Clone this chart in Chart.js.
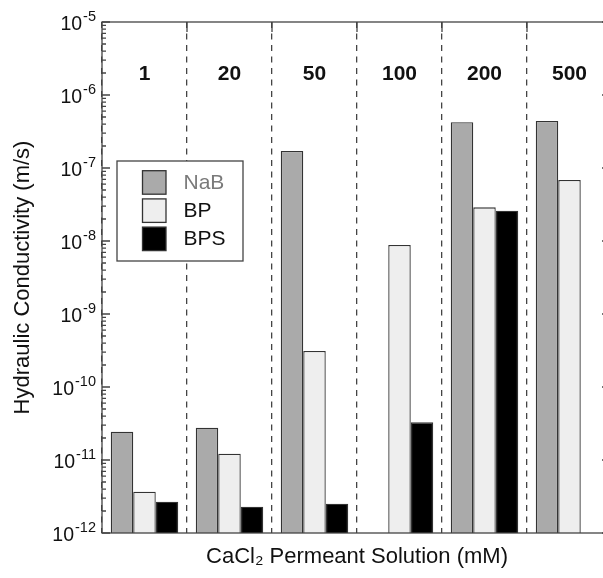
<!DOCTYPE html>
<html><head><meta charset="utf-8">
<script src="https://cdn.jsdelivr.net/npm/chart.js@4.4.1/dist/chart.umd.min.js"></script>
<style>
html,body{margin:0;padding:0;background:#fff;overflow:hidden;width:603px;height:578px}
#wrap{position:relative;width:620px;height:578px}
canvas{display:block}
</style></head><body>
<div id="wrap"><canvas id="c" width="620" height="578"></canvas></div>
<script>
const categories = ['1', '20', '50', '100', '200', '500'];
const seriesNames = ['NaB', 'BP', 'BPS'];
const nabValues = [2.44e-11, 2.77e-11, 1.71e-7, null, 4.23e-7, 4.4e-7];
const bpValues  = [3.68e-12, 1.22e-11, 3.11e-10, 8.8e-9, 2.89e-8, 6.86e-8];
const bpsValues = [2.69e-12, 2.29e-12, 2.52e-12, 3.28e-11, 2.6e-8, null];
const yTickExponents = [-5, -6, -7, -8, -9, -10, -11, -12];
const seriesColors = ['#aaaaaa', '#eeeeee', '#000000'];
const legendTextColors = ['#7a7a7a', '#111111', '#111111'];

const FONT = 'Liberation Sans, Arial, Helvetica, sans-serif';

const framePlugin = {
  id: 'frame',
  afterDraw(chart) {
    const {ctx, chartArea: {left, right, top, bottom}, scales: {x, y}} = chart;
    ctx.save();
    ctx.strokeStyle = '#444';
    ctx.lineWidth = 1.3;
    ctx.setLineDash([]);
    ctx.strokeRect(left, top, right - left, bottom - top);
    ctx.beginPath();
    const exps = yTickExponents.slice().sort((a, b) => a - b);
    for (const e of exps) {
      const py = y.getPixelForValue(Math.pow(10, e));
      ctx.moveTo(left, py); ctx.lineTo(left + 8, py);
      ctx.moveTo(right, py); ctx.lineTo(right - 10, py);
      if (e < exps[exps.length - 1]) {
        for (let k = 2; k <= 9; k++) {
          const pm = y.getPixelForValue(k * Math.pow(10, e));
          ctx.moveTo(left, pm); ctx.lineTo(left + 4, pm);
          ctx.moveTo(right, pm); ctx.lineTo(right - 4, pm);
        }
      }
    }
    for (let i = 1; i < categories.length; i++) {
      const px = (x.getPixelForValue(i - 1) + x.getPixelForValue(i)) / 2;
      ctx.moveTo(px, top); ctx.lineTo(px, top + 10);
    }
    ctx.stroke();

    // y tick labels (10 with superscript exponent)
    ctx.fillStyle = '#111';
    for (const e of yTickExponents) {
      const py = y.getPixelForValue(Math.pow(10, e));
      const expStr = String(e);
      ctx.font = '14.5px ' + FONT;
      const ew = ctx.measureText(expStr).width;
      const xr = 96 - ew;
      ctx.textBaseline = 'middle';
      ctx.textAlign = 'left';
      ctx.fillText(expStr, xr, py - 5);
      ctx.font = '19.5px ' + FONT;
      ctx.textAlign = 'right';
      ctx.fillText('10', xr - 1, py + 3);
    }

    // category labels at the top
    ctx.font = 'bold 21px ' + FONT;
    ctx.textAlign = 'center';
    ctx.textBaseline = 'middle';
    categories.forEach((c, i) => {
      ctx.fillText(c, x.getPixelForValue(i), 74);
    });

    // legend
    const lx = 117, ly = 161, lw = 126, lh = 100;
    ctx.fillStyle = '#fff';
    ctx.fillRect(lx, ly, lw, lh);
    ctx.strokeStyle = '#444';
    ctx.lineWidth = 1.3;
    ctx.strokeRect(lx, ly, lw, lh);
    chart.data.datasets.forEach((ds, i) => {
      const sy = 170.7 + i * 28.2;
      ctx.fillStyle = ds.backgroundColor;
      ctx.fillRect(142.5, sy, 23.5, 23.5);
      ctx.strokeStyle = '#333';
      ctx.strokeRect(142.5, sy, 23.5, 23.5);
      ctx.fillStyle = legendTextColors[i];
      ctx.font = '21px ' + FONT;
      ctx.textAlign = 'left';
      ctx.textBaseline = 'middle';
      ctx.fillText(ds.label, 183.5, sy + 12.5);
    });
    ctx.restore();
  }
};

new Chart(document.getElementById('c'), {
  type: 'bar',
  data: {
    labels: categories,
    datasets: [
      {label: seriesNames[0], data: nabValues, backgroundColor: seriesColors[0], borderColor: '#333', borderWidth: 1.3},
      {label: seriesNames[1], data: bpValues, backgroundColor: seriesColors[1], borderColor: '#333', borderWidth: 1.3},
      {label: seriesNames[2], data: bpsValues, backgroundColor: seriesColors[2], borderColor: '#333', borderWidth: 1.3}
    ]
  },
  options: {
    responsive: false,
    animation: false,
    devicePixelRatio: 1,
    layout: {padding: {left: 0, right: 8, top: 22, bottom: 0}},
    datasets: {bar: {categoryPercentage: 0.794, barPercentage: 1.0, borderSkipped: 'start'}},
    plugins: {legend: {display: false}, tooltip: {enabled: false}},
    scales: {
      x: {
        type: 'category',
        offset: true,
        ticks: {display: false},
        grid: {display: true, offset: true, color: '#444', lineWidth: 1.3, drawTicks: false},
        border: {display: false, dash: [6, 5.5]},
        title: {display: true, text: 'CaCl₂ Permeant Solution (mM)', color: '#111', font: {family: FONT, size: 22}, padding: {top: 0, bottom: 8}},
        afterFit: s => { s.height = 45; }
      },
      y: {
        type: 'logarithmic',
        min: 1e-12,
        max: 1e-5,
        ticks: {display: false},
        grid: {display: false},
        border: {display: false},
        title: {display: true, text: 'Hydraulic Conductivity (m/s)', color: '#111', font: {family: FONT, size: 22}, padding: {top: 10, bottom: 0}},
        afterFit: s => { s.width = 102; }
      }
    }
  },
  plugins: [framePlugin]
});
</script>
</body></html>
